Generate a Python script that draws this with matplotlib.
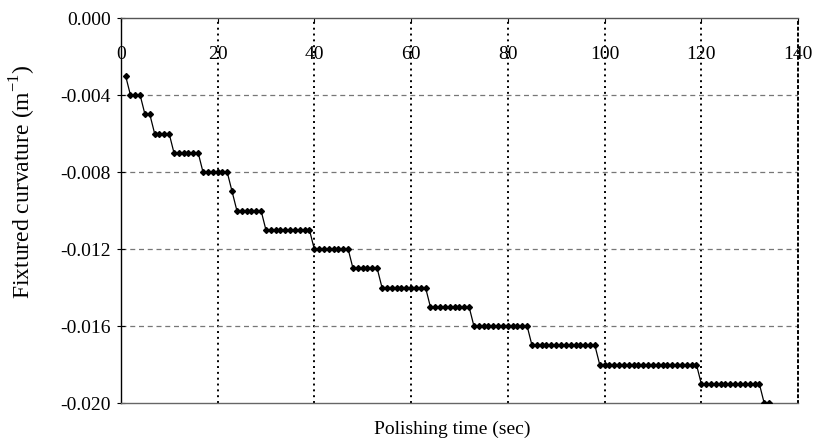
import numpy as np
import matplotlib
matplotlib.use("Agg")
import matplotlib.pyplot as plt

# polishing time (sec), one reading per second
time = np.arange(1, 135)

# fixtured curvature (1/m)
curvature = (
    [-0.003]
    + [-0.004] * 3
    + [-0.005] * 2
    + [-0.006] * 4
    + [-0.007] * 6
    + [-0.008] * 6
    + [-0.009]
    + [-0.010] * 6
    + [-0.011] * 10
    + [-0.012] * 8
    + [-0.013] * 6
    + [-0.014] * 10
    + [-0.015] * 9
    + [-0.016] * 12
    + [-0.017] * 14
    + [-0.018] * 21
    + [-0.019] * 13
    + [-0.020] * 2
)

x_ticks = [0, 20, 40, 60, 80, 100, 120, 140]
y_ticks = [0.000, -0.004, -0.008, -0.012, -0.016, -0.020]

plt.rcParams["font.family"] = ["Liberation Serif", "DejaVu Serif"]
plt.rcParams["mathtext.fontset"] = "custom"
plt.rcParams["mathtext.rm"] = "Liberation Serif"
plt.rcParams["axes.unicode_minus"] = False

fs = 14

fig = plt.figure(figsize=(8.16, 4.41), dpi=100)
ax = fig.add_axes([0.148, 0.086, 0.830, 0.873])

ax.plot(time, curvature, color="black", linewidth=0.9,
        marker="D", markersize=3, markerfacecolor="black",
        markeredgecolor="black", zorder=3)

ax.set_xlim(0, 140)
ax.set_ylim(-0.020, 0.000)
ax.set_xticks(x_ticks)
ax.set_yticks(y_ticks)
ax.set_yticklabels(["%.3f" % v for v in y_ticks])

# grid: dotted verticals, dashed grey horizontals
for v in x_ticks[1:-1]:
    ax.axvline(v, color="black", linestyle=(0, (1, 2)), linewidth=1.4, zorder=1)
for v in y_ticks[1:-1]:
    ax.axhline(v, color="#777777", linestyle=(0, (4, 3)), linewidth=0.9, zorder=1)

# frame
ax.spines["left"].set_color("black")
ax.spines["left"].set_linewidth(1.0)
ax.spines["top"].set_color("#555555")
ax.spines["top"].set_linewidth(1.0)
ax.spines["bottom"].set_color("#666666")
ax.spines["bottom"].set_linewidth(1.0)
ax.spines["right"].set_color("black")
ax.spines["right"].set_linestyle((0, (1, 2)))
ax.spines["right"].set_linewidth(1.4)

# x labels sit just under the top axis line
ax.tick_params(axis="x", top=True, bottom=False, labeltop=True,
               labelbottom=False, direction="in", length=3,
               pad=-32, labelsize=fs)
ax.tick_params(axis="y", direction="inout", length=6, pad=4, labelsize=fs)

ax.set_xlabel("Polishing time (sec)", fontsize=fs)
ax.xaxis.set_label_position("bottom")
ax.xaxis.set_label_coords(0.49, -0.045)
ax.set_ylabel("Fixtured curvature (m$^{\\mathregular{-1}}$)", fontsize=17)
ax.yaxis.set_label_coords(-0.122, 0.574)

plt.savefig("out.png", dpi=100)
